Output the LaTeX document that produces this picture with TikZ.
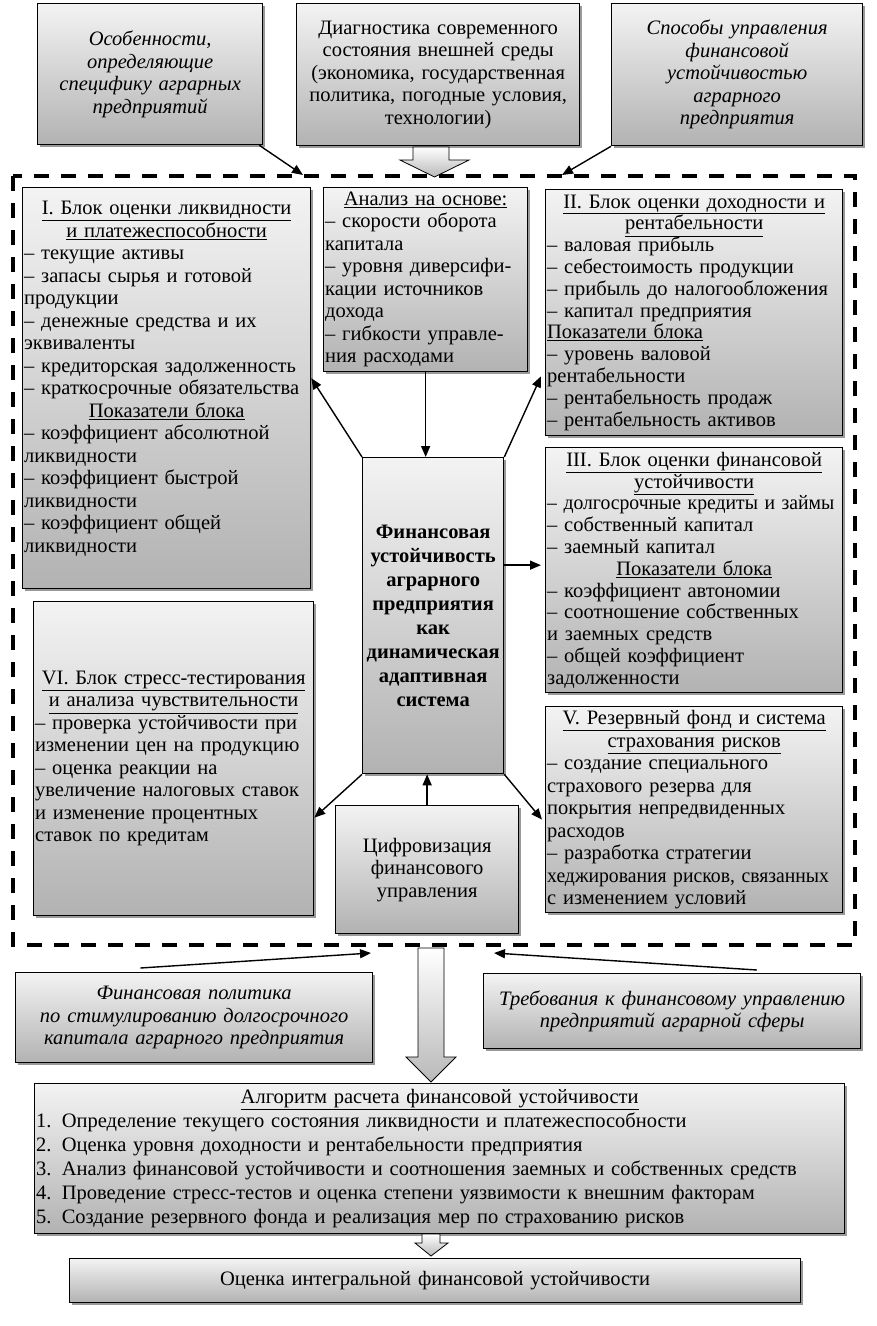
\documentclass[tikz,border=0pt]{standalone}
\usepackage{fontspec}
\setmainfont{Liberation Serif}
\usepackage{xcolor}
\usepackage{graphicx}
\usepackage{tikz}
\usetikzlibrary{arrows.meta, shadows, calc}
\definecolor{blokverh}{HTML}{F3F3F3}
\definecolor{bloknis}{HTML}{B2B2B2}
\definecolor{tenseryj}{HTML}{808080}
\newcommand{\zag}[1]{\hspace*{\fill}\underline{#1}\hspace*{\fill}\null}
\newcommand{\stroka}[1]{\mbox{#1}}
\newcommand{\uzko}[1]{\scalebox{0.96}[1]{#1}}

\begin{document}
\begin{tikzpicture}[x=1pt, y=-1pt,
    blok/.style={draw, line width=1.3pt, top color=blokverh, bottom color=bloknis,
        drop shadow={shadow xshift=2.5pt, shadow yshift=-2.5pt, fill=tenseryj, opacity=0.8},
        anchor=north west, inner xsep=1.5pt, inner ysep=2pt, align=left,
        font=\fontsize{20.5}{22.5}\selectfont},
    plotno/.style={font=\fontsize{20.5}{21.8}\selectfont},
    strelka/.style={-{Triangle[length=11pt, width=9pt]}, line width=1.4pt},
    polaya/.style={draw, line width=0.8pt, top color=white, bottom color=gray!55},
]

    % =================================================================
    % LAYER 0: THE PAGE
    % =================================================================
    \useasboundingbox[fill=white] (0,0) rectangle (876,1326);

    % =================================================================
    % LAYER 1: THE TOP INPUT BOXES
    % =================================================================
    \node[blok, align=center, text width=222pt, minimum width=225pt, minimum height=141pt]
        (osob) at (37,3) {\itshape Особенности,\\ определяющие\\ специфику аграрных\\ предприятий};
    \node[blok, align=center, text width=280pt, minimum width=283pt, minimum height=142pt]
        (diagn) at (296,3) {Диагностика современного\\ состояния внешней среды\\ (экономика, государственная\\ политика, погодные условия,\\ технологии)};
    \node[blok, align=center, text width=248pt, minimum width=251pt, minimum height=142pt]
        (sposob) at (611,3) {\itshape Способы управления\\ финансовой\\ устойчивостью\\ аграрного\\ предприятия};

    % =================================================================
    % LAYER 2: THE DASHED FRAME
    % =================================================================
    \draw[line width=3.5pt, dash pattern=on 15pt off 12pt] (13,176) rectangle (855,945);
    \draw[polaya] (413,147) -- (449,147) -- (449,160) -- (469,160) -- (434.5,177)
        -- (400,160) -- (413,160) -- cycle;
    \coordinate (vhod1) at (303,175);
    \coordinate (vhod2) at (562,175);

    % =================================================================
    % LAYER 3: THE BLOCKS INSIDE THE FRAME
    % =================================================================
    \node[blok, text width=285pt, minimum width=288pt, minimum height=401pt] (blok1) at (22,187)
        {\zag{I. Блок оценки ликвидности}\\
         \zag{и платежеспособности}\\
         – текущие активы\\
         – запасы сырья и готовой\\
         продукции\\
         – денежные средства и их\\
         эквиваленты\\
         \stroka{– кредиторская задолженность}\\
         \stroka{– краткосрочные обязательства}\\
         \zag{Показатели блока}\\
         – коэффициент абсолютной\\
         ликвидности\\
         – коэффициент быстрой\\
         ликвидности\\
         – коэффициент общей\\
         ликвидности\\ \mbox{}};
    \node[blok, text width=201pt, minimum width=204pt, minimum height=184pt] (analiz) at (323,187)
        {\zag{Анализ на основе:}\\
         – скорости оборота\\
         капитала\\
         \stroka{– уровня диверсифи-}\\
         кации источников\\
         дохода\\
         \stroka{– гибкости управле-}\\
         ния расходами};
    \node[blok, plotno, text width=294pt, minimum width=297pt, minimum height=246pt] (blok2) at (545,189)
        {\zag{II. Блок оценки доходности и}\\
         \zag{рентабельности}\\
         – валовая прибыль\\
         \stroka{– себестоимость продукции}\\
         \stroka{– прибыль до налогообложения}\\
         – капитал предприятия\\
         \underline{Показатели блока}\\
         – уровень валовой\\
         рентабельности\\
         – рентабельность продаж\\
         – рентабельность активов};
    \node[blok, plotno, text width=294pt, minimum width=297pt, minimum height=245pt] (blok3) at (545,447)
        {\zag{III. Блок оценки финансовой}\\
         \zag{устойчивости}\\
         \uzko{– долгосрочные кредиты и займы}\\
         – собственный капитал\\
         – заемный капитал\\
         \zag{Показатели блока}\\
         – коэффициент автономии\\
         \stroka{– соотношение собственных}\\
         и заемных средств\\
         – общей коэффициент\\
         задолженности};
    \node[blok, align=center, text width=138pt, minimum width=141pt, minimum height=316pt,
        font=\fontsize{20.5}{24}\selectfont\bfseries] (centr) at (362,457)
        {Финансовая\\ устойчивость\\ аграрного\\ предприятия\\ как\\ динамическая\\ адаптивная\\ система};
    \node[blok, text width=277pt, minimum width=280pt, minimum height=314pt] (blok6) at (33,601)
        {\zag{\stroka{VI. Блок стресс-тестирования}}\\
         \zag{\stroka{и анализа чувствительности}}\\
         \stroka{– проверка устойчивости при}\\
         \stroka{изменении цен на продукцию}\\
         – оценка реакции на\\
         \stroka{увеличение налоговых ставок}\\
         и изменение процентных\\
         ставок по кредитам};
    \node[blok, text width=294pt, minimum width=297pt, minimum height=206pt] (blok5) at (545,706)
        {\zag{\stroka{V. Резервный фонд и система}}\\
         \zag{страхования рисков}\\
         – создание специального\\
         страхового резерва для\\
         \stroka{покрытия непредвиденных}\\
         расходов\\
         – разработка стратегии\\
         \uzko{хеджирования рисков, связанных}\\
         с изменением условий};
    \node[blok, align=center, text width=180pt, minimum width=183pt, minimum height=128pt] (cifra) at (335,805)
        {Цифровизация\\ финансового\\ управления};

    % links inside the frame
    \coordinate (k3) at ($(centr.east |- blok3.west) + (0,-5)$);
    \draw[strelka] (analiz.south) -- (analiz.south |- centr.north);
    \draw[strelka] (centr.north west) -- ([yshift=10pt]blok1.east);
    \draw[strelka] (centr.north east) -- ([xshift=-4pt, yshift=60pt]blok2.south west);
    \draw[strelka] (k3) -- ([xshift=-4pt]k3 -| blok3.west);
    \draw[strelka] (centr.south west) -- ([yshift=-59pt]blok6.east);
    \draw[strelka] (centr.south east) -- ([xshift=-3pt, yshift=-10pt]blok5.west);
    \draw[strelka] (cifra.north) -- (cifra.north |- centr.south);

    % =================================================================
    % LAYER 4: THE LOWER BOXES
    % =================================================================
    \node[blok, align=center, text width=354pt, minimum width=357pt, minimum height=90pt] (finpol) at (15,972)
        {\itshape Финансовая политика\\ \stroka{по стимулированию долгосрочного}\\ \stroka{капитала аграрного предприятия}};
    \node[blok, align=center, text width=374pt, minimum width=377pt, minimum height=75pt] (treb) at (483,973)
        {\itshape \stroka{Требования к финансовому управлению}\\ предприятий аграрной сферы};
    \node[blok, text width=807pt, minimum width=810pt, minimum height=150pt,
        font=\fontsize{20.5}{24}\selectfont] (algor) at (34,1083)
        {\zag{Алгоритм расчета финансовой устойчивости}\\
         \stroka{1. Определение текущего состояния ликвидности и платежеспособности}\\
         \stroka{2. Оценка уровня доходности и рентабельности предприятия}\\
         \stroka{3. Анализ финансовой устойчивости и соотношения заемных и собственных средств}\\
         \stroka{4. Проведение стресс-тестов и оценка степени уязвимости к внешним факторам}\\
         \stroka{5. Создание резервного фонда и реализация мер по страхованию рисков}};
    \node[blok, align=center, text width=728pt, minimum width=731pt, minimum height=44pt] (ocenka) at (69,1258)
        {Оценка интегральной финансовой устойчивости};

    % arrows into the frame from outside
    \coordinate (fp) at ($(finpol.north west)!0.35!(finpol.north east) + (0,-4)$);
    \coordinate (tr) at ($(treb.north west)!0.724!(treb.north east) + (0,-3)$);
    \coordinate (vyhod1) at (371,953);
    \coordinate (vyhod2) at (494,953);
    \draw[strelka] (fp) -- (vyhod1);
    \draw[strelka] (tr) -- (vyhod2);
    \draw[strelka] ([xshift=-4pt]osob.south east) -- (vhod1);
    \draw[strelka] (sposob.south west) -- (vhod2);

    % hollow arrows down to the algorithm and the result
    \draw[polaya] (418,948) -- (444,948) -- (444,1057) -- (456,1057) -- (431,1082)
        -- (406,1057) -- (418,1057) -- cycle;
    \draw[polaya] (422,1234) -- (440,1234) -- (440,1243) -- (448,1243) -- (431,1256)
        -- (415,1243) -- (422,1243) -- cycle;

\end{tikzpicture}
\end{document}
